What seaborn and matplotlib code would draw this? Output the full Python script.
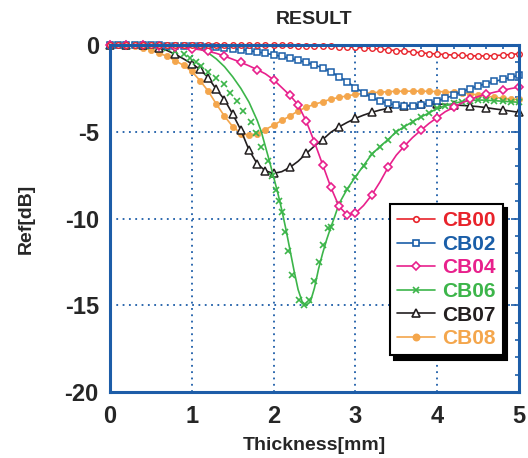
import matplotlib.pyplot as plt
import pandas as pd
import seaborn as sns
import numpy as np
from matplotlib.lines import Line2D
from matplotlib.ticker import MultipleLocator

# thickness grid (mm) shared by most curves
thickness = np.linspace(0, 5, 51)

cb00 = [0, 0, 0, 0, 0, 0, 0, 0, 0, 0,
        0, 0, 0, 0, 0, -0.01, -0.01, -0.01, -0.01, -0.02,
        -0.02, -0.02, -0.02, -0.03, -0.03, -0.03, -0.05, -0.07, -0.09, -0.11,
        -0.13, -0.16, -0.2, -0.24, -0.28, -0.32, -0.36, -0.4, -0.45, -0.49,
        -0.52, -0.55, -0.58, -0.6, -0.62, -0.63, -0.63, -0.61, -0.58, -0.55,
        -0.5]
cb02 = [0, 0, -0.01, -0.01, -0.02, -0.02, -0.02, -0.03, -0.04, -0.05,
        -0.06, -0.08, -0.1, -0.13, -0.17, -0.21, -0.26, -0.32, -0.4, -0.48,
        -0.56, -0.66, -0.77, -0.88, -1.0, -1.15, -1.32, -1.55, -1.82, -2.12,
        -2.45, -2.76, -3.02, -3.22, -3.37, -3.46, -3.51, -3.52, -3.45, -3.35,
        -3.22, -3.07, -2.9, -2.7, -2.52, -2.36, -2.22, -2.1, -1.98, -1.86,
        -1.75]
cb04 = [0, 0, 0, 0, -0.01, -0.02, -0.04, -0.07, -0.11, -0.16,
        -0.21, -0.27, -0.36, -0.48, -0.64, -0.82, -1.0, -1.2, -1.42, -1.66,
        -2.0, -2.45, -2.9, -3.45, -4.4, -5.6, -6.9, -8.2, -9.3, -9.8,
        -9.7, -9.25, -8.65, -7.9, -7.05, -6.35, -5.82, -5.33, -4.92, -4.52,
        -4.18, -3.84, -3.6, -3.34, -3.14, -2.97, -2.84, -2.72, -2.61, -2.51,
        -2.43]
cb07 = [0, 0, 0, 0, -0.02, -0.05, -0.15, -0.32, -0.54, -0.8,
        -1.08, -1.4, -1.88, -2.55, -3.15, -3.98, -4.9, -6.05, -6.85, -7.25,
        -7.4, -7.3, -7.05, -6.7, -6.25, -5.82, -5.45, -5.03, -4.72, -4.46,
        -4.23, -4.04, -3.88, -3.75, -3.65, -3.57, -3.51, -3.45, -3.41, -3.4,
        -3.4, -3.42, -3.45, -3.48, -3.51, -3.55, -3.61, -3.68, -3.74, -3.81,
        -3.88]
cb08 = [0, 0, -0.03, -0.08, -0.15, -0.28, -0.46, -0.66, -0.9, -1.18,
        -1.52, -2.05, -2.65, -3.4, -4.1, -4.7, -5.1, -5.2, -5.1, -4.87,
        -4.62, -4.35, -4.09, -3.8, -3.58, -3.42, -3.27, -3.12, -3.02, -2.93,
        -2.85, -2.79, -2.75, -2.72, -2.69, -2.67, -2.66, -2.66, -2.66, -2.67,
        -2.68, -2.7, -2.73, -2.76, -2.81, -2.88, -2.95, -3.01, -3.07, -3.11,
        -3.14]

# CB06 is sampled finer around the dip
cb06_x = [0, 0.1, 0.2, 0.3, 0.4, 0.5, 0.6, 0.7, 0.8, 0.9, 1.0, 1.1, 1.2, 1.3,
          1.4, 1.5, 1.6, 1.7, 1.8, 1.85, 1.9, 1.95, 2.0, 2.05, 2.1, 2.15, 2.2,
          2.25, 2.3, 2.35, 2.4, 2.45, 2.5, 2.55, 2.6, 2.65, 2.7, 2.75, 2.8,
          2.9, 3.0, 3.1, 3.2, 3.3, 3.4, 3.5, 3.6, 3.7, 3.8, 3.9, 4.0, 4.1,
          4.2, 4.3, 4.4, 4.5, 4.6, 4.7, 4.8, 4.9, 5.0]
cb06_y = [0, 0, 0, 0, 0, 0, 0, -0.02, -0.05, -0.09, -0.14, -0.22, -0.45, -0.8,
          -1.25, -1.83, -2.5, -3.3, -4.35, -5.0, -5.85, -6.7, -7.6, -8.5, -9.5,
          -10.6, -11.8, -13.0, -14.1, -14.8, -15.0, -14.8, -14.0, -12.9, -12.0,
          -11.2, -10.5, -9.85, -9.15, -8.3, -7.6, -6.95, -6.3, -5.85, -5.45,
          -5.0, -4.7, -4.42, -4.15, -3.92, -3.65, -3.5, -3.36, -3.27, -3.2,
          -3.17, -3.18, -3.21, -3.24, -3.27, -3.3]
# CB06 measured marks run slightly left of the line on the falling side
cb06_mk_x = [0, 0.1, 0.2, 0.3, 0.4, 0.5, 0.6, 0.7, 0.8, 0.9, 0.98, 1.05, 1.11,
             1.2, 1.3, 1.39, 1.47, 1.55, 1.63, 1.72, 1.78, 1.85, 1.93, 1.98,
             2.03, 2.07, 2.1, 2.14, 2.18, 2.23, 2.31, 2.37, 2.43, 2.49, 2.55,
             2.61, 2.67]
cb06_mk_y = [0, 0, 0, 0, -0.01, -0.03, -0.08, -0.18, -0.33, -0.52, -0.77, -0.96,
             -1.21, -1.54, -1.88, -2.27, -2.75, -3.21, -3.79, -4.42, -5.09, -5.9,
             -6.67, -7.55, -8.36, -9.0, -9.6, -10.76, -11.9, -13.26, -14.7,
             -15.0, -14.7, -13.6, -12.5, -11.5, -10.56]

labels = ["CB00", "CB02", "CB04", "CB06", "CB07", "CB08"]
colors = ["#e8232b", "#1a5ea8", "#e8208c", "#3cb54a", "#231f20", "#f4a64c"]

sns.set_style("white")
plt.rcParams['font.family'] = ['Liberation Sans', 'DejaVu Sans']
plt.rcParams['font.weight'] = 'bold'
plt.rcParams['axes.unicode_minus'] = False

axis_blue = "#1d5da8"

fig = plt.figure(figsize=(5.28, 4.58), dpi=100)
ax = fig.add_axes([0.2083, 0.1441, 0.7746, 0.7576])

tail = [i for i, v in enumerate(cb06_x) if v > 2.67 and v != 2.75]
mk_x = cb06_mk_x + [cb06_x[i] for i in tail]
mk_y = cb06_mk_y + [cb06_y[i] for i in tail]

# marks sit closer together where the curves fall steeply
pink_marks = [i for i in range(51) if i % 2 == 0 or 23 <= i <= 29]
black_marks = [i for i in range(51) if i % 2 == 0 or 11 <= i <= 19]

common = dict(ax=ax, errorbar=None, linewidth=1.2, clip_on=False, legend=False)

sns.lineplot(x=thickness, y=cb08, color=colors[5], marker="o", markersize=4.5,
             markerfacecolor=colors[5], markeredgecolor=colors[5],
             markeredgewidth=0.5, zorder=3, **common)
sns.lineplot(x=thickness, y=cb07, color=colors[4], marker="^", markersize=6,
             markerfacecolor="white", markeredgecolor=colors[4],
             markeredgewidth=1.1, markevery=black_marks, zorder=4, **common)
sns.lineplot(x=cb06_x, y=cb06_y, color=colors[3], zorder=5, **common)
sns.lineplot(x=mk_x, y=mk_y, color=colors[3], linestyle="none", marker="x",
             markersize=4.5, markeredgecolor=colors[3], markeredgewidth=1.2,
             zorder=5, ax=ax, errorbar=None, clip_on=False, legend=False)
sns.lineplot(x=thickness, y=cb02, color=colors[1], marker="s", markersize=4.5,
             markerfacecolor="white", markeredgecolor=colors[1],
             markeredgewidth=1.1, zorder=6, **common)
sns.lineplot(x=thickness, y=cb04, color=colors[2], marker="D", markersize=4.5,
             markerfacecolor="white", markeredgecolor=colors[2],
             markeredgewidth=1.2, markevery=pink_marks, zorder=7, **common)
sns.lineplot(x=thickness, y=cb00, color=colors[0], marker="o", markersize=4,
             markerfacecolor="white", markeredgecolor=colors[0],
             markeredgewidth=1.0, zorder=8, **common)

ax.set_xlim(0, 5)
ax.set_ylim(-20, 0)
ax.xaxis.set_major_locator(MultipleLocator(1))
ax.xaxis.set_minor_locator(MultipleLocator(0.2))
ax.yaxis.set_major_locator(MultipleLocator(5))
ax.yaxis.set_minor_locator(MultipleLocator(1))
ax.grid(True, which="major", linestyle=(0, (1, 2.5)), color=axis_blue,
        linewidth=1.3)
ax.tick_params(which="both", direction="in", top=True, right=True,
               color=axis_blue, width=1.2, labelsize=17)
ax.tick_params(which="major", length=6)
ax.tick_params(which="minor", length=3)
ax.tick_params(axis="x", which="major", pad=9)
ax.tick_params(axis="y", which="major", pad=8)
for s in ax.spines.values():
    s.set_color(axis_blue)
    s.set_linewidth(2.2)
    s.set_zorder(9)

ax.set_xlabel("Thickness[mm]", fontsize=14, fontweight="bold")
ax.set_ylabel("Ref[dB]", fontsize=14, fontweight="bold")
ax.xaxis.set_label_coords(0.5, -0.13)
ax.yaxis.set_label_coords(-0.185, 0.5)
ax.set_title("RESULT", fontsize=14, fontweight="bold", pad=15)

markers = ["o", "s", "D", "x", "^", "o"]
sizes = [4, 4.5, 4.5, 4.5, 5.5, 4.5]
faces = ["white", "white", "white", colors[3], "white", colors[5]]
handles = [Line2D([0], [0], color=c, lw=1.2, marker=m, markersize=ms,
                  markerfacecolor=f, markeredgecolor=c, markeredgewidth=1.2)
           for c, m, ms, f in zip(colors, markers, sizes, faces)]
leg = ax.legend(handles, labels, loc="upper left", bbox_to_anchor=(0.685, 0.542),
                borderaxespad=0, fontsize=15, handlelength=1.8,
                handletextpad=0.35, labelspacing=0.22, borderpad=0.35,
                fancybox=False, framealpha=1, edgecolor="black",
                shadow={"ox": 3, "oy": -3, "color": "black", "alpha": 1})
leg.get_frame().set_linewidth(1.5)
leg.set_zorder(10)
for t, c in zip(leg.get_texts(), colors):
    t.set_color(c)
    t.set_fontweight("bold")

fig.savefig("out.png", dpi=100)
